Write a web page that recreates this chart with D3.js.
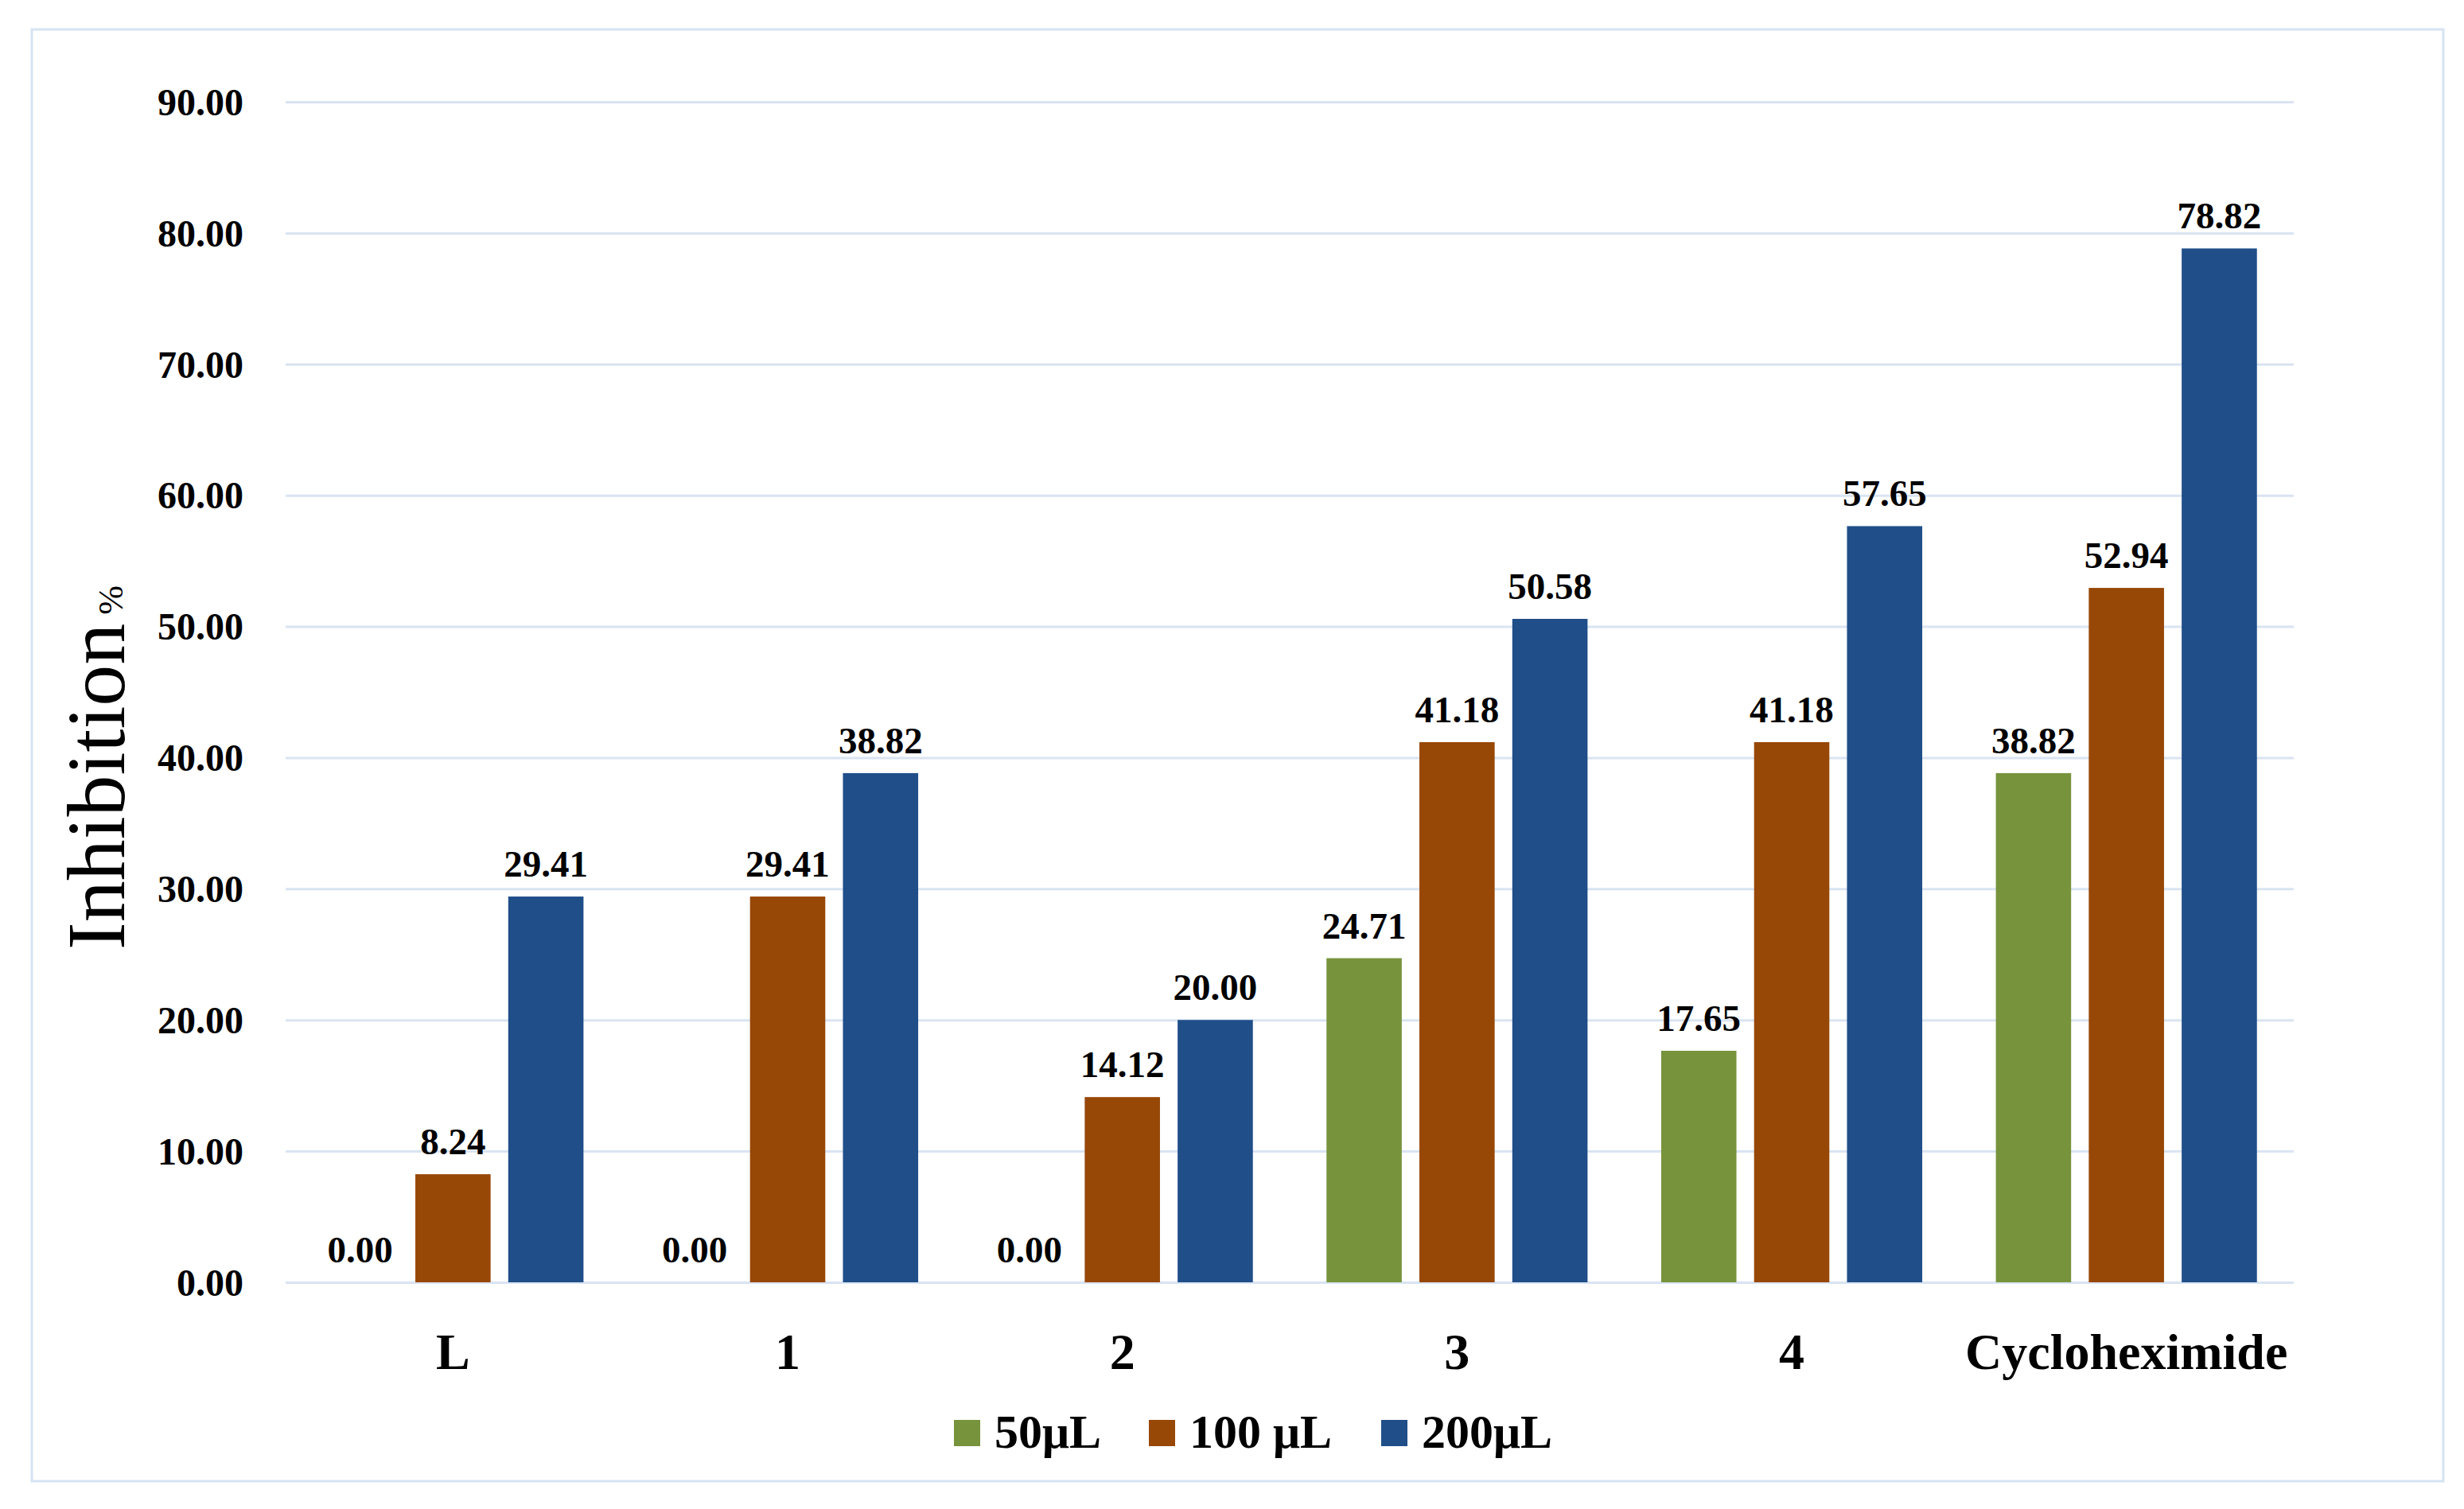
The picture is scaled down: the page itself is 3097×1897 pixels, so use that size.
<!DOCTYPE html>
<html>
<head>
<meta charset="utf-8">
<script src="https://cdn.jsdelivr.net/npm/d3@7"></script>
<style>
  body { margin: 0; background: #fff; }
  text { font-family: "Liberation Serif", "Times New Roman", serif; }
</style>
</head>
<body>
<div id="chart"></div>
<script>
// Data
const categories = ["L", "1", "2", "3", "4", "Cycloheximide"];
const seriesNames = ["50μL", "100 μL", "200μL"];
const values50 = [0.00, 0.00, 0.00, 24.71, 17.65, 38.82];
const values100 = [8.24, 29.41, 14.12, 41.18, 41.18, 52.94];
const values200 = [29.41, 38.82, 20.00, 50.58, 57.65, 78.82];
const yTicks = [0, 10, 20, 30, 40, 50, 60, 70, 80, 90];
const colors = ["#77933c", "#974706", "#1f4e89"];

const seriesValues = [values50, values100, values200];
const rows = categories.map((c, i) => ({
    category: c,
    bars: seriesNames.map((s, k) => ({ series: s, value: seriesValues[k][i], k }))
}));

const width = 3097, height = 1897;
const plot = { left: 359, right: 2883, top: 128, bottom: 1612 };

const svg = d3.select("#chart")
    .append("svg")
    .attr("width", width)
    .attr("height", height);

// outer frame
svg.append("rect")
    .attr("x", 40).attr("y", 37)
    .attr("width", 3031).attr("height", 1825)
    .attr("fill", "#fff")
    .attr("stroke", "#d6e3f3")
    .attr("stroke-width", 3);

const x0 = d3.scaleBand()
    .domain(categories)
    .range([plot.left, plot.right])
    .paddingInner(0.22)
    .paddingOuter(0.11);

const x1 = d3.scaleBand()
    .domain(seriesNames)
    .range([0, x0.bandwidth()])
    .paddingInner(0.19);

const y = d3.scaleLinear()
    .domain([0, 90])
    .range([plot.bottom, plot.top]);

// y axis with gridlines
const yAxis = d3.axisLeft(y)
    .tickValues(yTicks)
    .tickFormat(d3.format(".2f"))
    .tickSize(-(plot.right - plot.left))
    .tickPadding(53);

const gy = svg.append("g")
    .attr("transform", `translate(${plot.left},0)`)
    .call(yAxis);
gy.select(".domain").remove();
gy.selectAll(".tick line")
    .attr("stroke", "#d9e4f2")
    .attr("stroke-width", 3);
gy.selectAll(".tick text")
    .attr("fill", "#000")
    .style("font-family", "'Liberation Serif', serif")
    .style("font-weight", "bold")
    .style("font-size", "48px")
    .attr("dy", "0.34em");

// bars
const groups = svg.append("g")
    .selectAll("g")
    .data(rows)
    .join("g")
    .attr("transform", d => `translate(${x0(d.category)},0)`);

groups.selectAll("rect")
    .data(d => d.bars)
    .join("rect")
    .attr("x", d => x1(d.series))
    .attr("y", d => y(d.value))
    .attr("width", x1.bandwidth())
    .attr("height", d => y(0) - y(d.value))
    .attr("fill", d => colors[d.k]);

groups.selectAll("text.val")
    .data(d => d.bars)
    .join("text")
    .attr("class", "val")
    .attr("x", d => x1(d.series) + x1.bandwidth() / 2)
    .attr("y", d => y(d.value) - 25)
    .attr("text-anchor", "middle")
    .style("font-weight", "bold")
    .style("font-size", "47px")
    .text(d => d.value.toFixed(2));

// category labels
svg.append("g")
    .selectAll("text")
    .data(categories)
    .join("text")
    .attr("x", d => x0(d) + x0.bandwidth() / 2)
    .attr("y", 1721)
    .attr("text-anchor", "middle")
    .style("font-weight", "bold")
    .style("font-size", "64px")
    .text(d => d);

// y axis title
const title = svg.append("text")
    .attr("transform", "translate(156, 965) rotate(-90)")
    .attr("text-anchor", "middle")
    .style("font-size", "104px");
title.append("tspan").text("Inhibition");
title.append("tspan")
    .attr("dy", "-2")
    .style("font-size", "44px")
    .text(" %");

// legend
const legendItems = [
    { name: seriesNames[0], sx: 1199, tx: 1250 },
    { name: seriesNames[1], sx: 1444, tx: 1495 },
    { name: seriesNames[2], sx: 1736, tx: 1787 }
];
const legend = svg.append("g");
legend.selectAll("rect")
    .data(legendItems)
    .join("rect")
    .attr("x", d => d.sx)
    .attr("y", 1785)
    .attr("width", 33)
    .attr("height", 33)
    .attr("fill", (d, i) => colors[i]);
legend.selectAll("text")
    .data(legendItems)
    .join("text")
    .attr("x", d => d.tx)
    .attr("y", 1820)
    .style("font-weight", "bold")
    .style("font-size", "60px")
    .text(d => d.name);
</script>
</body>
</html>
